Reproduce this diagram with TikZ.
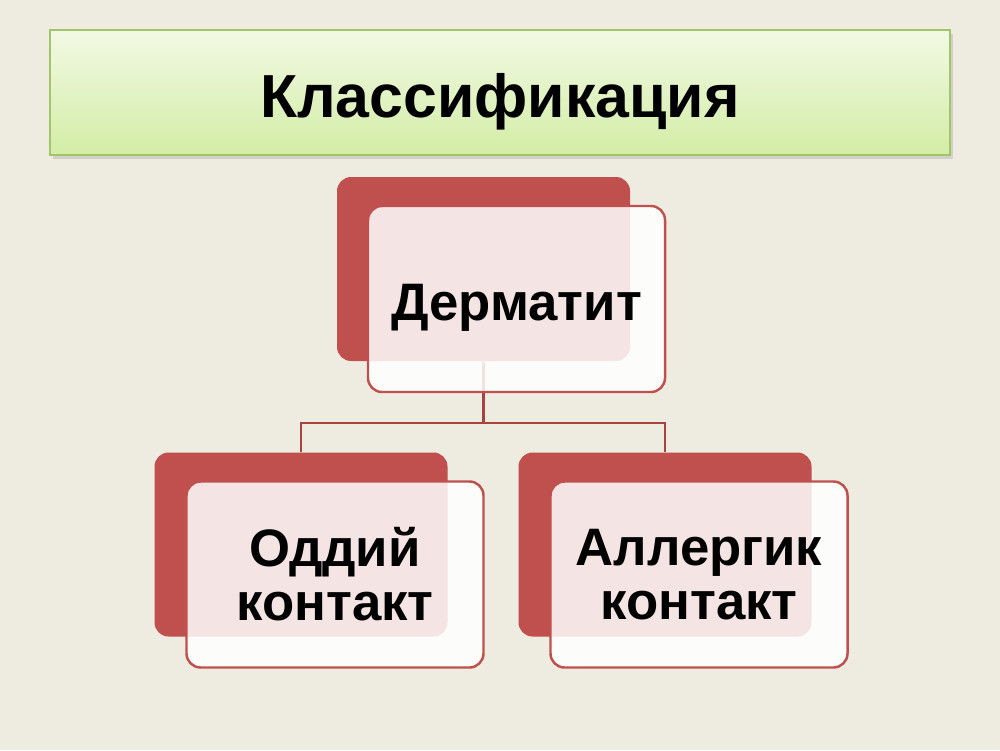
\documentclass[tikz,border=0pt]{standalone}
\usepackage{fontspec}
\setmainfont{Liberation Sans}
\usetikzlibrary{positioning,shadows}
\definecolor{slidebg}{HTML}{EEECE1}
\definecolor{accred}{HTML}{C0504D}
\definecolor{linered}{HTML}{A9433F}
\definecolor{titleedge}{HTML}{A4C46A}
\definecolor{titletop}{HTML}{F2F9E4}
\definecolor{titlebot}{HTML}{D3EDA6}

\begin{document}
\begin{tikzpicture}[node distance=1cm,on grid,
   back/.style={rectangle, rounded corners=4pt, fill=accred, minimum width=2.93cm, minimum height=1.84cm, inner sep=0pt},
   front/.style={rectangle, rounded corners=4pt, draw=accred, line width=0.7pt, fill=white, fill opacity=0.85, text opacity=1, minimum width=2.97cm, minimum height=1.86cm, align=center, inner sep=0pt, font=\fontsize{15}{15.4}\selectfont\bfseries},
   link/.style={draw=linered, line width=0.6pt}]
  \fill[slidebg] (0,0) rectangle (10,7.5);
  \useasboundingbox (0,0) rectangle (10,7.5);
  \node[rectangle, draw=titleedge, line width=0.6pt, top color=titletop, bottom color=titlebot,
        minimum width=9cm, minimum height=1.25cm, text height=0.58cm, text depth=0.08cm,
        drop shadow={opacity=0.25, shadow xshift=0.03cm, shadow yshift=-0.04cm},
        font=\fontsize{17.3}{20}\selectfont\bfseries] (title) at (5,6.575) {Классификация};
  \node[back] (dermback) at (4.835,4.81) {};
  \node[back, below left=2.755cm and 1.825cm of dermback] (oddback) {};
  \node[back, below right=2.755cm and 1.815cm of dermback] (allback) {};
  \coordinate[below=0.61cm of dermback.south] (fork);
  \draw[link] (dermback.south) -- (fork) -| (oddback.north);
  \draw[link] (fork) -| (allback.north);
  \node[front, below right=0.30cm and 0.33cm of dermback, text height=0.5cm, text depth=0.08cm] (derm) {Дерматит};
  \node[front, below right=0.30cm and 0.34cm of oddback] (odd) {Оддий\\контакт};
  \node[front, below right=0.30cm and 0.34cm of allback] (all) {Аллергик\\контакт};
\end{tikzpicture}
\end{document}
